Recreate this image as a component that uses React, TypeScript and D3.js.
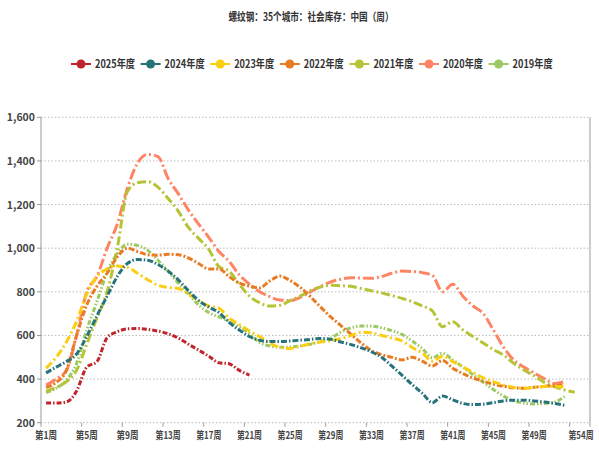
import React, { useRef, useEffect } from 'react';
import * as d3 from 'd3';

const title = '螺纹钢：35个城市：社会库存：中国（周）';

// weeks 1..54 as categories
const weeks = d3.range(1, 55).map((w) => `第${w}周`);
const xLabelWeeks = ['第1周', '第5周', '第9周', '第13周', '第17周', '第21周', '第25周', '第29周', '第33周', '第37周', '第41周', '第45周', '第49周', '第54周'];
const yTicks = [200, 400, 600, 800, 1000, 1200, 1400, 1600];

const seriesNames = ['2025年度', '2024年度', '2023年度', '2022年度', '2021年度', '2020年度', '2019年度'];
const colors = ['#C1232B', '#27727B', '#FCCE10', '#E87C25', '#B5C334', '#FE8463', '#9BCA63'];
const dashes = ['5,2,1.5,2', '6,2,1.5,2', '8,3,2,3', '6,2,2,2', '9,3,2,3', '11,3,2,3', '5,2,1.5,2,1.5,2'];

const v2025 = [290, 290, 295, 345, 455, 480, 590, 617, 630, 632, 628, 620, 608, 588, 560, 533, 505, 475, 470, 440, 418];
const v2024 = [
  428, 455, 480, 515, 595, 690, 780, 870, 930, 948,
  945, 925, 895, 855, 805, 760, 730, 705, 660, 625,
  595, 578, 572, 572, 575, 578, 582, 586, 582, 570,
  558, 543, 525, 500, 460, 418, 375, 335, 292, 322,
  305, 288, 283, 285, 292, 300, 303, 303, 300, 295, 288, 280,
];
const v2023 = [
  450, 500, 570, 665, 790, 870, 905, 918, 912, 885,
  855, 830, 820, 815, 790, 760, 735, 725, 680, 650,
  620, 595, 565, 545, 540, 550, 562, 570, 576, 585,
  600, 615, 612, 600, 588, 575, 545, 520, 482, 505,
  480, 455, 430, 405, 388, 372, 362, 358, 362, 366, 366, 365,
];
const v2022 = [
  362, 385, 440, 600, 740, 825, 885, 960, 1000, 985,
  970, 968, 972, 970, 955, 930, 905, 905, 870, 840,
  826, 818, 850, 872, 852, 820, 778, 730, 685, 645,
  605, 565, 530, 512, 500, 488, 500, 482, 460, 485,
  450, 425, 405, 390, 377, 367, 360, 358, 362, 367, 370, 372,
];
const v2021 = [
  345, 362, 388, 440, 560, 680, 800, 1000, 1260, 1300,
  1305, 1280, 1228, 1170, 1095, 1045, 995, 915, 895, 835,
  780, 750, 735, 738, 760, 780, 805, 822, 830, 828,
  825, 815, 805, 795, 783, 770, 755, 735, 712, 640,
  663, 625, 595, 565, 535, 510, 472, 442, 415, 385, 365, 350, 340,
];
const v2020 = [
  372, 400, 440, 600, 800, 870, 1000, 1110, 1275, 1390,
  1430, 1420, 1320, 1250, 1175, 1110, 1050, 985, 940, 878,
  835, 800, 778, 762, 760, 775, 800, 825, 845, 858,
  865, 863, 862, 870, 885, 895, 893, 888, 875, 800,
  835, 780, 735, 700, 625, 545, 487, 455, 428, 402, 380, 388,
];
const v2019 = [
  338, 358, 395, 472, 625, 755, 890, 975, 1018, 1012,
  990, 945, 895, 840, 790, 740, 705, 685, 665, 640,
  608, 568, 552, 546, 547, 552, 560, 572, 588, 615,
  635, 643, 643, 635, 622, 605, 575, 540, 498, 518,
  488, 455, 420, 385, 352, 322, 300, 290, 286, 288, 294, 320,
];

const seriesValues = [v2025, v2024, v2023, v2022, v2021, v2020, v2019];

const FONT = '"Noto Sans CJK SC", "Noto Sans", sans-serif';

const Chart: React.FC = () => {
  const svgRef = useRef<SVGSVGElement>(null);

  useEffect(() => {
    if (!svgRef.current) return;
    const svg = d3.select(svgRef.current);
    svg.selectAll('*').remove();

    const left = 41;
    const right = 590;
    const top = 117.3;
    const bottom = 422.7;

    const x = d3.scaleBand<string>().domain(weeks).range([left, right]).padding(0);
    const y = d3.scaleLinear().domain([200, 1600]).range([bottom, top]);
    const cx = (i: number) => (x(weeks[i]) as number) + x.bandwidth() / 2;

    // title
    svg
      .append('text')
      .attr('x', 311)
      .attr('y', 21)
      .attr('text-anchor', 'middle')
      .attr('textLength', 165)
      .attr('lengthAdjust', 'spacingAndGlyphs')
      .style('font-family', FONT)
      .style('font-size', '11px')
      .style('font-weight', 'bold')
      .style('fill', '#333')
      .text(title);

    // legend
    const legend = svg.append('g');
    seriesNames.forEach((name, i) => {
      const lx = 81 + i * 69.6;
      const g = legend.append('g');
      g.append('line')
        .attr('x1', lx - 10)
        .attr('x2', lx + 10)
        .attr('y1', 64)
        .attr('y2', 64)
        .attr('stroke', colors[i])
        .attr('stroke-width', 2);
      g.append('circle').attr('cx', lx).attr('cy', 64).attr('r', 4.5).attr('fill', colors[i]);
      g.append('text')
        .attr('x', lx + 14)
        .attr('y', 68)
        .attr('textLength', 40)
        .attr('lengthAdjust', 'spacingAndGlyphs')
        .style('font-family', FONT)
        .style('font-size', '11px')
        .style('font-weight', 'bold')
        .style('fill', '#333')
        .text(name);
    });

    // grid
    svg
      .append('g')
      .selectAll('line')
      .data(yTicks)
      .enter()
      .append('line')
      .attr('x1', left)
      .attr('x2', right)
      .attr('y1', (d) => y(d))
      .attr('y2', (d) => y(d))
      .attr('stroke', '#bbb')
      .attr('stroke-width', 1)
      .attr('stroke-dasharray', '1.5,2');

    // y axis
    const yAxis = svg.append('g');
    yAxis
      .append('line')
      .attr('x1', left)
      .attr('x2', left)
      .attr('y1', top)
      .attr('y2', bottom)
      .attr('stroke', '#999');
    yAxis
      .selectAll('.ytick')
      .data(yTicks)
      .enter()
      .append('line')
      .attr('x1', left - 4)
      .attr('x2', left)
      .attr('y1', (d) => y(d))
      .attr('y2', (d) => y(d))
      .attr('stroke', '#999');
    yAxis
      .selectAll('.ylabel')
      .data(yTicks)
      .enter()
      .append('text')
      .attr('x', left - 6)
      .attr('y', (d) => y(d) + 4)
      .attr('text-anchor', 'end')
      .style('font-family', FONT)
      .style('font-size', '10.5px')
      .style('font-weight', 'bold')
      .style('fill', '#444')
      .text((d) => d3.format(',')(d));

    // right border line
    svg
      .append('line')
      .attr('x1', right)
      .attr('x2', right)
      .attr('y1', top)
      .attr('y2', bottom)
      .attr('stroke', '#999');

    // x axis ticks and labels
    const xAxis = svg.append('g');
    const tickPos = weeks
      .map((w, i) => (i % 4 === 0 ? (x(w) as number) : null))
      .filter((v) => v !== null) as number[];
    tickPos.push(right);
    xAxis
      .selectAll('line')
      .data(tickPos)
      .enter()
      .append('line')
      .attr('x1', (d) => d)
      .attr('x2', (d) => d)
      .attr('y1', bottom)
      .attr('y2', bottom + 4)
      .attr('stroke', '#999');
    xAxis
      .selectAll('text')
      .data(xLabelWeeks)
      .enter()
      .append('text')
      .attr('x', (d) => Math.min((x(d) as number) + x.bandwidth() / 2, 581))
      .attr('y', bottom + 16)
      .attr('text-anchor', 'middle')
      .attr('textLength', (d) => (d.length > 3 ? 25 : 22))
      .attr('lengthAdjust', 'spacingAndGlyphs')
      .style('font-family', FONT)
      .style('font-size', '10px')
      .style('font-weight', 'bold')
      .style('fill', '#444')
      .text((d) => d);

    // lines
    const line = d3
      .line<number>()
      .x((_, i) => cx(i))
      .y((d) => y(d))
      .curve(d3.curveMonotoneX);

    const order = [6, 5, 4, 3, 2, 1, 0];
    order.forEach((si) => {
      svg
        .append('path')
        .datum(seriesValues[si])
        .attr('fill', 'none')
        .attr('stroke', colors[si])
        .attr('stroke-width', 3)
        .attr('stroke-dasharray', dashes[si])
        .attr('d', line);
    });
  }, []);

  return <svg ref={svgRef} width={599} height={452} style={{ display: 'block' }} />;
};

export default function App() {
  return (
    <div style={{ position: 'absolute', left: 0, top: 0, width: 599, height: 452, background: '#fff' }}>
      <Chart />
    </div>
  );
}
